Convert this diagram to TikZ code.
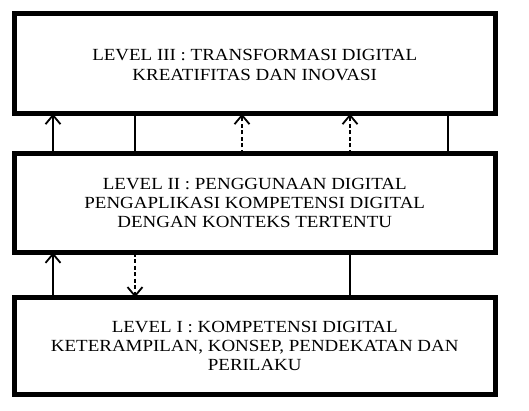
\documentclass[tikz,border=0pt]{standalone}
\usepackage{fontspec}
\setmainfont{Liberation Serif}
\usetikzlibrary{arrows.meta}
\newcommand{\lvltext}[2]{\scalebox{1.115}[1]{\fontsize{17}{#1}\selectfont\begin{tabular}{@{}c@{}}#2\end{tabular}}}
\begin{document}
\begin{tikzpicture}[x=1pt,y=-1pt,
  levelbox/.style={draw=black,line width=5pt,minimum width=480.5pt,inner sep=0pt,outer sep=0pt},
  leveltext/.style={inner sep=0pt},
  conn/.style={line width=1.8pt},
  dconn/.style={line width=1.8pt,dash pattern=on 4pt off 2.5pt},
  tip/.style={-{Straight Barb[length=9pt,width=15pt,line width=1.8pt]}}
]
\useasboundingbox (0,0) rectangle (529,411);
\node[levelbox,minimum height=100pt] (b3) at (254.75,63.8) {};
\node[levelbox,minimum height=98.5pt] (b2) at (254.75,203.25) {};
\node[levelbox,minimum height=97.3pt] (b1) at (254.75,346.1) {};
\node[leveltext] (t3) at (254.75,66.5) {\lvltext{20}{LEVEL III : TRANSFORMASI DIGITAL\\KREATIFITAS DAN INOVASI}};
\node[leveltext] (t2) at (254.75,205) {\lvltext{19}{LEVEL II : PENGGUNAAN DIGITAL\\PENGAPLIKASI KOMPETENSI DIGITAL\\DENGAN KONTEKS TERTENTU}};
\node[leveltext] (t1) at (254.75,348) {\lvltext{19}{LEVEL I : KOMPETENSI DIGITAL\\KETERAMPILAN, KONSEP, PENDEKATAN DAN\\PERILAKU}};
% between level II and III
\draw[conn,tip] ([xshift=38.5pt]b2.north west) -- ([xshift=38.5pt]b3.south west);
\draw[conn] ([xshift=120.5pt]b2.north west) -- ([xshift=120.5pt]b3.south west);
\draw[dconn,tip] ([xshift=227.5pt]b2.north west) -- ([xshift=227.5pt]b3.south west);
\draw[dconn,tip] ([xshift=335.5pt]b2.north west) -- ([xshift=335.5pt]b3.south west);
\draw[conn] ([xshift=433.5pt]b2.north west) -- ([xshift=433.5pt]b3.south west);
% between level I and II
\draw[conn,tip] ([xshift=38.5pt]b1.north west) -- ([xshift=38.5pt]b2.south west);
\draw[dconn,tip] ([xshift=120.5pt]b2.south west) -- ([xshift=120.5pt]b1.north west);
\draw[conn] ([xshift=335.5pt]b1.north west) -- ([xshift=335.5pt]b2.south west);
\end{tikzpicture}
\end{document}
